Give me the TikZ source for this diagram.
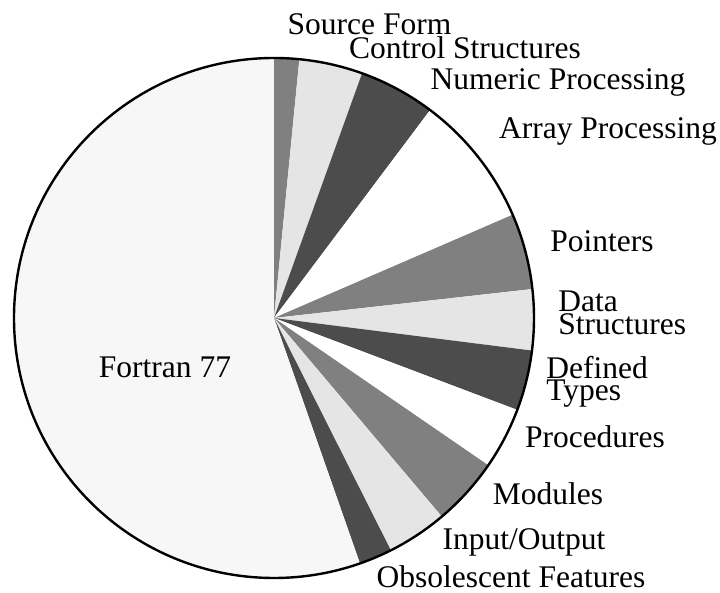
\documentclass[tikz,border=0pt]{standalone}
\usepackage{fontspec}
\setmainfont{Liberation Serif}
\usepackage{tikz}
\definecolor{sliceGray}{gray}{0.5}
\definecolor{sliceLight}{gray}{0.9}
\definecolor{sliceDark}{gray}{0.3}
\definecolor{slicePale}{gray}{0.97}
\newcommand{\pieR}{260}
\pgfkeys{
 /pieSlice/.is family, /pieSlice,
 from/.estore in = \psFrom,
 to/.estore in = \psTo,
 c/.estore in = \psC,
 default/.style = {from=90, to=90, c=white}
}
\newcommand{\pieSlice}[1][]{
    \pgfkeys{/pieSlice, default, #1}%
    \fill[color=\psC] (0,0) -- (\psFrom:\pieR)
        arc[start angle=\psFrom, end angle=\psTo, radius=\pieR] -- cycle;
}
\tikzset{
 lbl/.style = {font=\fontsize{15.75}{9.5}\selectfont, inner sep=0pt, anchor=base},
 lbl2/.style = {lbl, align=left, anchor=base west}
}

\begin{document}
\begin{tikzpicture}[x=0.5pt, y=0.5pt]
    \useasboundingbox (-274,-275) rectangle (446,318);
    \pieSlice[from=90, to=84.4, c=sliceGray]
    \pieSlice[from=84.4, to=70.2, c=sliceLight]
    \pieSlice[from=70.2, to=53.1, c=sliceDark]
    \pieSlice[from=53.1, to=23.4, c=white]
    \pieSlice[from=23.4, to=6.4, c=sliceGray]
    \pieSlice[from=6.4, to=-7.2, c=sliceLight]
    \pieSlice[from=-7.2, to=-20.7, c=sliceDark]
    \pieSlice[from=-20.7, to=-34.5, c=white]
    \pieSlice[from=-34.5, to=-49.8, c=sliceGray]
    \pieSlice[from=-49.8, to=-63.3, c=sliceLight]
    \pieSlice[from=-63.3, to=-70.7, c=sliceDark]
    \pieSlice[from=90, to=289.3, c=slicePale]
    \draw[line width=1.2pt] (0,0) circle[radius=\pieR];

    \node[lbl] (source) at (95.5,283) {Source Form};
    \node[lbl] (control) at (191,259) {Control Structures};
    \node[lbl] (numeric) at (284,228) {Numeric Processing};
    \node[lbl] (array) at (334,179) {Array Processing};
    \node[lbl] (pointers) at (328,66) {Pointers};
    \node[lbl2] (data) at (284,-17) {Data\\Structures};
    \node[lbl2] (defined) at (272,-83) {Defined\\Types};
    \node[lbl] (procs) at (321,-130) {Procedures};
    \node[lbl] (modules) at (274,-187) {Modules};
    \node[lbl] (io) at (250,-232) {Input/Output};
    \node[lbl] (obsolete) at (237,-270) {Obsolescent Features};
    \node[lbl] (f77) at (-109,-60) {Fortran 77};
\end{tikzpicture}
\end{document}
